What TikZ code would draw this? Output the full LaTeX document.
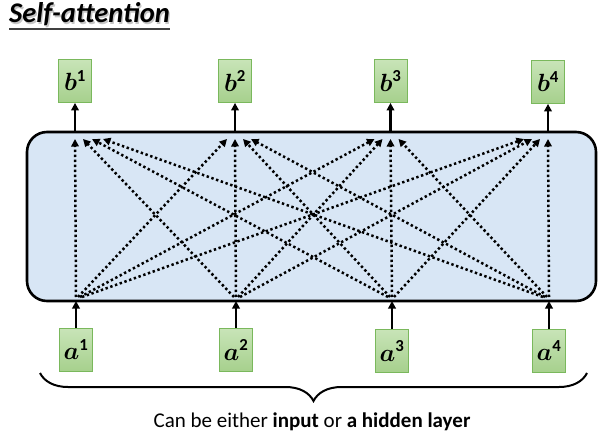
\documentclass[tikz,border=0pt]{standalone}
\usepackage{amsmath}
\usepackage{bm}
\usepackage{fontspec}
\setmainfont{Carlito}
\usepackage{tikz}
\usetikzlibrary{arrows.meta,decorations.pathreplacing}
\definecolor{greentop}{RGB}{200,228,184}
\definecolor{greenbot}{RGB}{166,208,140}
\definecolor{greenline}{RGB}{122,184,92}
\definecolor{panelblue}{RGB}{216,230,245}

\begin{document}
\begin{tikzpicture}[x=1pt,y=1pt]
              \tikzstyle{every node}+=[inner sep=0pt]
              \tikzstyle{vecbox}=[draw=greenline, line width=0.8pt, top color=greentop, bottom color=greenbot, minimum width=33pt, minimum height=43pt, font=\fontsize{24}{28}\selectfont]
              \tikzstyle{flow}=[black, line width=2.4pt, -{Triangle[length=7.5pt,width=7.5pt]}]
              \tikzstyle{attn}=[black, line width=2.5pt, dash pattern=on 2.4pt off 2.6pt, -{Triangle[length=7.5pt,width=7.5pt]}]
              \useasboundingbox (0,0) rectangle (607,-433);
              % title
              \node [anchor=base west, gray!45, font=\fontsize{28.5}{32}\selectfont\bfseries\itshape] at (10.3,-24.3) {Self-attention};
              \node (title) [anchor=base west, font=\fontsize{28.5}{32}\selectfont\bfseries\itshape] at (9,-23) {Self-attention};
              \draw [black!75, line width=1.3pt] ([yshift=-6pt]title.base west) -- ([yshift=-6pt]title.base east);
              % layer
              \node (panel) [draw, line width=2.6pt, fill=panelblue, rounded corners=20pt, minimum width=569pt, minimum height=169pt] at (311.5,-216.5) {};
              % outputs
              \node (b1) [vecbox] at (75,-81) {$\bm{b}^{\mathbf{1}}$};
              \node (b2) [vecbox] at (235,-81) {$\bm{b}^{\mathbf{2}}$};
              \node (b3) [vecbox] at (390.5,-81) {$\bm{b}^{\mathbf{3}}$};
              \node (b4) [vecbox] at (548,-82) {$\bm{b}^{\mathbf{4}}$};
              % inputs
              \node (a1) [vecbox] at (76,-350) {$\bm{a}^{\mathbf{1}}$};
              \node (a2) [vecbox] at (236,-350) {$\bm{a}^{\mathbf{2}}$};
              \node (a3) [vecbox] at (392,-351) {$\bm{a}^{\mathbf{3}}$};
              \node (a4) [vecbox] at (549,-351) {$\bm{a}^{\mathbf{4}}$};
              % points on the layer
              \coordinate (t1) at (75,-132);
              \coordinate (t2) at (235,-132);
              \coordinate (t3) at (390.5,-132);
              \coordinate (t4) at (548,-132);
              \coordinate (s1) at (76,-301);
              \coordinate (s2) at (236,-301);
              \coordinate (s3) at (392,-301);
              \coordinate (s4) at (549,-301);
              \draw [flow] (t1) -- (b1.south);
              \draw [flow] (t2) -- (b2.south);
              \draw [flow] (t3) -- (b3.south);
              \draw [flow] (t4) -- (b4.south);
              \draw [flow] (a1.north) -- (s1);
              \draw [flow] (a2.north) -- (s2);
              \draw [flow] (a3.north) -- (s3);
              \draw [flow] (a4.north) -- (s4);
              % attention, every input to every output
              \draw [attn] ([yshift=4pt]s1) -- ([yshift=-7pt]t1);
              \draw [attn] ([xshift=-2pt,yshift=4pt]s2) -- ([xshift=8pt,yshift=-7pt]t1);
              \draw [attn] ([xshift=-4pt,yshift=4pt]s3) -- ([xshift=17pt,yshift=-7pt]t1);
              \draw [attn] ([xshift=-6pt,yshift=4pt]s4) -- ([xshift=28pt,yshift=-7pt]t1);
              \draw [attn] ([xshift=2pt,yshift=4pt]s1) -- ([xshift=-8pt,yshift=-7pt]t2);
              \draw [attn] ([yshift=4pt]s2) -- ([yshift=-7pt]t2);
              \draw [attn] ([xshift=-2pt,yshift=4pt]s3) -- ([xshift=8pt,yshift=-7pt]t2);
              \draw [attn] ([xshift=-4pt,yshift=4pt]s4) -- ([xshift=16pt,yshift=-7pt]t2);
              \draw [attn] ([xshift=4pt,yshift=4pt]s1) -- ([xshift=-16pt,yshift=-7pt]t3);
              \draw [attn] ([xshift=2pt,yshift=4pt]s2) -- ([xshift=-8pt,yshift=-7pt]t3);
              \draw [attn] ([yshift=4pt]s3) -- ([yshift=-7pt]t3);
              \draw [attn] ([xshift=-2pt,yshift=4pt]s4) -- ([xshift=8pt,yshift=-7pt]t3);
              \draw [attn] ([xshift=6pt,yshift=4pt]s1) -- ([xshift=-24pt,yshift=-7pt]t4);
              \draw [attn] ([xshift=4pt,yshift=4pt]s2) -- ([xshift=-16pt,yshift=-7pt]t4);
              \draw [attn] ([xshift=2pt,yshift=4pt]s3) -- ([xshift=-8pt,yshift=-7pt]t4);
              \draw [attn] ([yshift=4pt]s4) -- ([yshift=-7pt]t4);
              % brace and caption
              \coordinate (brl) at (40,-373);
              \coordinate (brr) at (587,-373);
              \draw [black, line width=2pt, decorate, decoration={brace, amplitude=28pt, mirror}] (brl) -- (brr);
              \node (caption) [anchor=base, font=\fontsize{21}{25}\selectfont] at (312,-427) {Can be either \textbf{input} or \textbf{a hidden layer}};
            \end{tikzpicture}
\end{document}
